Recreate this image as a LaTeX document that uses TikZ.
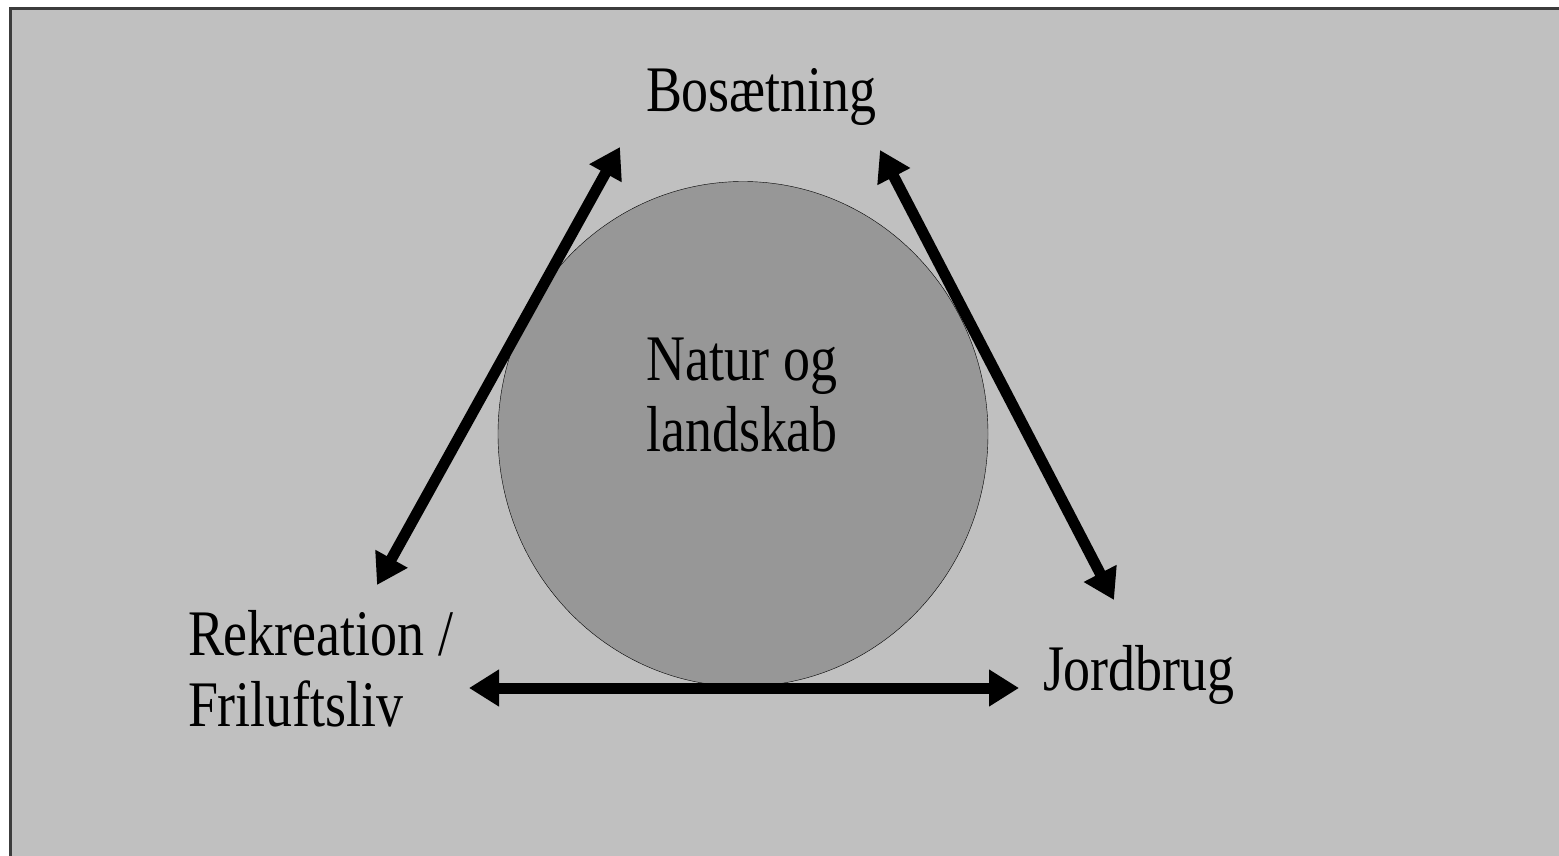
\documentclass[tikz,border=0pt]{standalone}
\usepackage{fontspec}
\setmainfont[FakeStretch=0.83]{Liberation Serif}
\usetikzlibrary{arrows.meta,
                shapes.geometric,
                positioning}
\definecolor{bggray}{RGB}{192,192,192}
\definecolor{ringgray}{RGB}{151,151,151}
\definecolor{framegray}{RGB}{60,60,60}

\begin{document}
\begin{tikzpicture}[x=1pt, y=-1pt,
   TXT/.style = {inner sep=0pt, outer sep=0pt,
                 font=\fontsize{65}{71}\selectfont},
  CIRC/.style = {ellipse, draw=black, thin, fill=ringgray,
                 minimum width=490pt, minimum height=505pt,
                 inner sep=0pt},
   ARR/.style = {{Triangle[length=30pt, width=35pt]}-{Triangle[length=30pt, width=35pt]},
                 line width=11pt}
                        ]
\useasboundingbox (0,0) rectangle (1559,856);
\clip (0,0) rectangle (1559,856);
% frame
\fill[white] (0,0) rectangle (1559,856);
\draw[framegray, line width=3pt, fill=bggray] (10.5,8.5) rectangle (1600,900);
% circle and labels
\node (natur) [CIRC] at (743,434) {};
\node (naturtxt) [TXT, align=center, anchor=south] at (742,452) {Natur og\\landskab};
\node (bos)  [TXT, anchor=base west] at (646,112) {Bosætning};
\node (rek)  [TXT, align=left, anchor=south west] at (188,727) {Rekreation /\\Friluftsliv};
\node (jord) [TXT, anchor=base west] at (1043,690) {Jordbrug};
% arrow ends
\coordinate (bos-l)  at (620,147);
\coordinate (bos-r)  at (880,150);
\coordinate (rek-t)  at (377,585);
\coordinate (rek-r)  at (469,688);
\coordinate (jord-t) at (1114,600);
\coordinate (jord-l) at (1019,688);
\draw[ARR] (rek-t) -- (bos-l);
\draw[ARR] (bos-r) -- (jord-t);
\draw[ARR] (rek-r) -- (jord-l);
\end{tikzpicture}
\end{document}
